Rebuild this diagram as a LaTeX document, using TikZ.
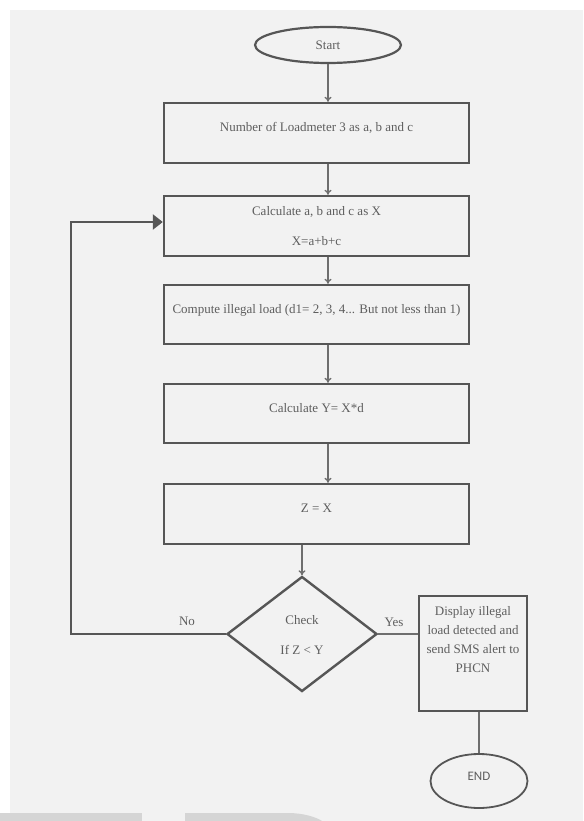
\documentclass[tikz,border=0pt]{standalone}
\usepackage{fontspec}
\setmainfont{Liberation Serif}
\newfontfamily\endfont{Carlito}
\usetikzlibrary{shapes.geometric,arrows.meta}

\definecolor{panel}{HTML}{F2F2F2}
\definecolor{shadegrey}{HTML}{D5D5D5}
\definecolor{frame}{HTML}{565656}
\definecolor{wire}{HTML}{6E6E6E}
\definecolor{ink}{HTML}{5E5E5E}

\tikzset{
  stepbox/.style={draw=frame, line width=2.4pt, rectangle, inner sep=0pt,
    minimum width=305pt, minimum height=60pt},
  oval/.style={draw=frame, line width=2.2pt, ellipse, inner sep=0pt},
  decision/.style={draw=frame, line width=2.4pt, diamond, inner sep=0pt,
    minimum width=150pt, minimum height=115pt},
  txt/.style={text=ink, inner sep=0pt, text height=9pt, text depth=0pt,
    font=\fontsize{13}{19}\selectfont},
  conn/.style={draw=wire, line width=1.3pt, -{To[length=5pt,width=7pt]}},
  plain/.style={draw=wire, line width=1.3pt},
  loopline/.style={draw=frame, line width=2.4pt,
    -{Triangle[length=10pt,width=15pt]}}
}

\begin{document}
\begin{tikzpicture}[x=1pt,y=-1pt]
  % page and grey panel
  \useasboundingbox (0,0) rectangle (583,821);
  \fill[white] (0,0) rectangle (583,821);
  \fill[panel] (10,10) rectangle (583,821);
  % faint shapes along the bottom edge
  \fill[shadegrey] (0,813) rectangle (142,821);
  \fill[shadegrey] (185,821) -- (185,813) -- (288,813)
    .. controls (303,813) and (316,817) .. (322,821) -- cycle;

  % terminal and process boxes
  \node[oval, minimum width=146pt, minimum height=36pt] (start) at (328,45) {};
  \node[txt] (tstart) at (328,45) {Start};

  \node[stepbox] (b1) at (316.5,133) {};
  \node[txt] (t1) at (316.5,127) {Number of Loadmeter 3 as a, b and c};

  \node[stepbox] (b2) at (316.5,226) {};
  \node[txt] (t2a) at (316.5,211) {Calculate a, b and c as X};
  \node[txt] (t2b) at (316.5,241) {X=a+b+c};

  \node[stepbox, minimum height=59pt] (b3) at (316.5,314.5) {};
  \node[txt] (t3) at (316.5,309) {Compute illegal load (d1= 2, 3, 4... But not less than 1)};

  \node[stepbox, minimum height=59pt] (b4) at (316.5,413.5) {};
  \node[txt] (t4) at (316.5,408) {Calculate Y= X*d};

  \node[stepbox] (b5) at (316.5,514) {};
  \node[txt] (t5) at (316.5,508) {Z = X};

  % decision
  \node[decision] (dec) at (302,634) {};
  \node[txt] (tchk) at (302,620) {Check};
  \node[txt] (tif) at (302,650) {If Z < Y};

  % alert box and end terminal
  \node[stepbox, minimum width=108pt, minimum height=115pt] (disp) at (473,653.5) {};
  \node[text=ink, inner sep=0pt, anchor=north, align=center,
    font=\fontsize{13}{19}\selectfont] (tdisp) at (473,606.5)
    {Display illegal\\load detected and\\send SMS alert to\\PHCN};

  \node[oval, line width=1.8pt, minimum width=97pt, minimum height=54pt] (end) at (479,781) {};
  \node[txt, font=\endfont\fontsize{13}{16}\selectfont] (tend) at (479,776) {END};

  % flow connectors
  \draw[conn] (start.south) -- (start.south |- b1.north);
  \draw[conn] (b1.south -| start) -- (b2.north -| start);
  \draw[conn] (b2.south -| start) -- (b3.north -| start);
  \draw[conn] (b3.south -| start) -- (b4.north -| start);
  \draw[conn] (b4.south -| start) -- (b5.north -| start);
  \draw[conn] (b5.south -| dec) -- (dec.north);

  % yes branch
  \draw[plain] (dec.east) -- (dec.east -| disp.west);
  \node[txt] (tyes) at (394,622) {Yes};
  \draw[plain] (disp.south -| end.north) -- (end.north);

  % no branch loops back
  \coordinate (lp) at (71,222);
  \draw[loopline] (dec.west) -| (lp) -- (lp -| b2.west);
  \node[txt] (tno) at (187,621) {No};
\end{tikzpicture}
\end{document}
